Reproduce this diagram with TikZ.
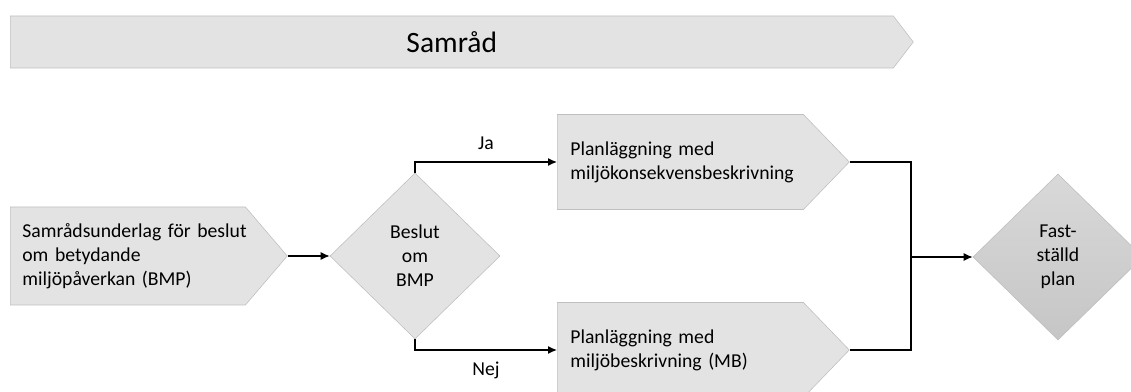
\documentclass[tikz,border=0pt]{standalone}
\usepackage{fontspec}
\setmainfont{Carlito}
\usetikzlibrary{shapes.geometric,shapes.symbols,positioning,arrows.meta}

% one unit = one pixel of the reference
\def\pxu{0.025cm}

\tikzset{
  banner/.style={signal, signal to=east, signal pointer angle=105, draw=gray!50, fill=gray!22,
    minimum width=903*\pxu, minimum height=52*\pxu, font=\fontsize{21}{25}\selectfont},
  stage/.style={signal, signal to=east, draw=gray!50, fill=gray!22, align=left,
    font=\fontsize{14}{17}\selectfont},
  decision/.style={diamond, draw=gray!50, fill=gray!22, align=center, inner sep=0pt,
    minimum width=170*\pxu, minimum height=166*\pxu, font=\fontsize{14}{17}\selectfont},
  flow/.style={-{Latex[length=9*\pxu, width=8*\pxu]}, line width=0.9pt},
  joint/.style={line width=0.9pt}
}

\begin{document}
\begin{tikzpicture}[x=\pxu, y=-\pxu]
  \useasboundingbox (0,0) rectangle (1131,392);

  % phase banner
  \node[banner, anchor=west] (samrad) at (10,42) {Samråd};

  % boxes and decisions
  \node[stage, anchor=west, signal pointer angle=99, minimum width=277*\pxu, minimum height=98*\pxu,
    inner xsep=12*\pxu, text width=211*\pxu] (underlag) at (10,256) {\mbox{Samrådsunderlag för beslut}\\om betydande\\miljöpåverkan (BMP)};
  \node[decision] (bmp) at (415,256) {Beslut\\om\\BMP};
  \node[stage, anchor=west, signal pointer angle=92, minimum width=292*\pxu, minimum height=95*\pxu,
    inner xsep=13*\pxu, text width=220*\pxu] (mkb) at (557,162) {Planläggning med\\\mbox{miljökonsekvensbeskrivning}};
  \node[stage, anchor=west, signal pointer angle=92, minimum width=292*\pxu, minimum height=95*\pxu,
    inner xsep=13*\pxu, text width=220*\pxu] (mb) at (557,350) {Planläggning med\\miljöbeskrivning (MB)};
  \node[decision, shading=axis, top color=gray!30, bottom color=gray!45] (plan) at (1058,257) {Fast-\\ställd\\plan};

  % connectors
  \coordinate (merge) at (911,257);
  \draw[flow] (underlag.east) -- (bmp.west);
  \draw[flow] (bmp.north) |- node[pos=0.75, above=5pt, font=\fontsize{14}{17}\selectfont] (ja) {Ja} (mkb.west);
  \draw[flow] (bmp.south) |- node[pos=0.75, below=5pt, font=\fontsize{14}{17}\selectfont] (nej) {Nej} (mb.west);
  \draw[joint] (mkb.east) -| (merge) |- (mb.east);
  \draw[flow] (merge) -- (plan.west);
\end{tikzpicture}
\end{document}
